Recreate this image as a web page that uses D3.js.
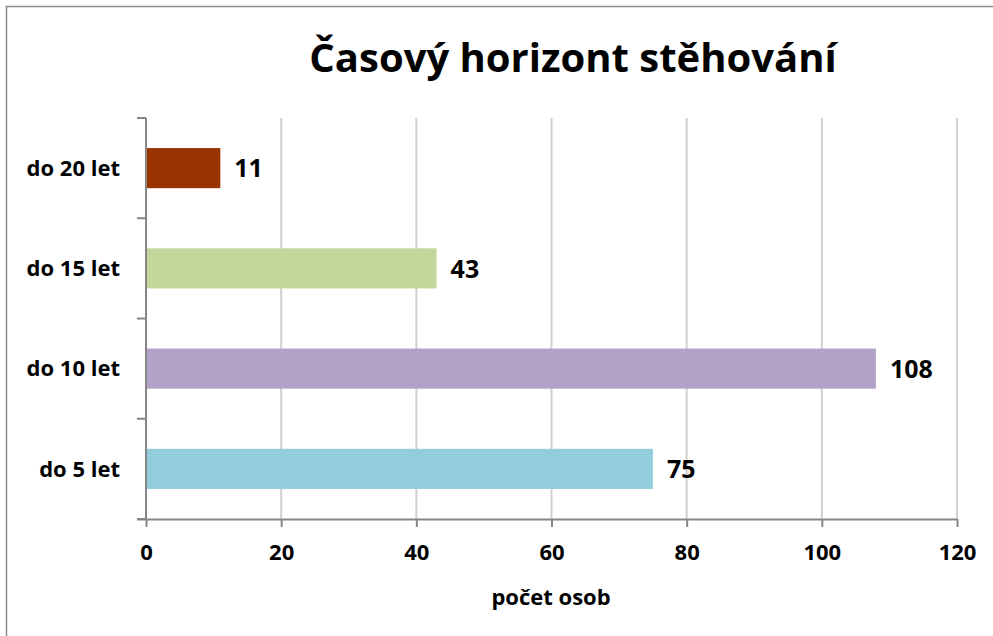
<!DOCTYPE html>
<html>
<head>
<meta charset="utf-8">
<script src="https://cdn.jsdelivr.net/npm/d3@7"></script>
<style>
  body { margin: 0; background: #fff; }
  svg { display: block; font-family: "Open Sans", "Noto Sans", sans-serif; }
</style>
</head>
<body>
<svg id="mainSvg" width="993" height="636"></svg>
<script>
let categories = ['do 20 let', 'do 15 let', 'do 10 let', 'do 5 let'];
let values = [11, 43, 108, 75];
let colors = ['#993300', '#c4d79b', '#b3a2c7', '#92cddc'];
let xTicks = [0, 20, 40, 60, 80, 100, 120];

let svg = d3.select('#mainSvg');

// chart border (only top and left visible in frame)
svg.append('rect')
  .attr('x', 6.5).attr('y', 6.5)
  .attr('width', 1000).attr('height', 1000)
  .attr('fill', 'none')
  .attr('stroke', '#8c8c8c')
  .attr('stroke-width', 1.5);

let margin = {left: 146, right: 36, top: 118, bottom: 117};
let x = d3.scaleLinear().domain([0, 120]).range([margin.left, 993 - margin.right]);
let y = d3.scaleBand().domain(categories).range([margin.top, 636 - margin.bottom]).paddingInner(0.6).paddingOuter(0.3);

// gridlines
svg.append('g').selectAll('line')
  .data(xTicks.slice(1))
  .join('line')
  .attr('x1', d => x(d)).attr('x2', d => x(d))
  .attr('y1', margin.top).attr('y2', 636 - margin.bottom)
  .attr('stroke', '#d0d0d0')
  .attr('stroke-width', 2);

// bars
svg.append('g').selectAll('rect')
  .data(values)
  .join('rect')
  .attr('x', x(0))
  .attr('y', (d, i) => y(categories[i]))
  .attr('width', d => x(d) - x(0))
  .attr('height', y.bandwidth())
  .attr('fill', (d, i) => colors[i]);

// x axis
let xAxis = svg.append('g')
  .attr('transform', `translate(0,${636 - margin.bottom})`)
  .call(d3.axisBottom(x).tickValues(xTicks).tickSize(8).tickPadding(17).tickSizeOuter(0));
xAxis.select('.domain').attr('d', `M${x(0) - 9},0.5H${x(120)}`).attr('stroke', '#868686').attr('stroke-width', 2);
xAxis.selectAll('.tick line').attr('stroke', '#868686').attr('stroke-width', 2);
xAxis.selectAll('.tick text')
  .attr('font-size', 22).attr('font-weight', 'bold').attr('fill', '#000')
  .attr('font-family', '"Open Sans", sans-serif');

// y axis with ticks between categories
let yAxisG = svg.append('g');
yAxisG.append('line')
  .attr('x1', x(0)).attr('x2', x(0))
  .attr('y1', margin.top).attr('y2', 636 - margin.bottom)
  .attr('stroke', '#868686').attr('stroke-width', 2);
let boundaries = d3.range(categories.length + 1).map(i => margin.top + i * (636 - margin.top - margin.bottom) / categories.length);
yAxisG.selectAll('.yt')
  .data(boundaries)
  .join('line')
  .attr('class', 'yt')
  .attr('x1', x(0) - 9).attr('x2', x(0))
  .attr('y1', d => d).attr('y2', d => d)
  .attr('stroke', '#868686').attr('stroke-width', 2);

// category labels
svg.append('g').selectAll('text')
  .data(categories)
  .join('text')
  .attr('x', 120)
  .attr('y', d => y(d) + y.bandwidth() / 2)
  .attr('dy', '0.35em')
  .attr('text-anchor', 'end')
  .attr('font-size', 22).attr('font-weight', 'bold')
  .text(d => d);

// value labels
svg.append('g').selectAll('text')
  .data(values)
  .join('text')
  .attr('x', d => x(d) + 14)
  .attr('y', (d, i) => y(categories[i]) + y.bandwidth() / 2)
  .attr('dy', '0.37em')
  .attr('font-size', 25).attr('font-weight', 'bold')
  .text(d => d);

// title
svg.append('text')
  .attr('x', 573).attr('y', 72)
  .attr('text-anchor', 'middle')
  .attr('font-size', 40).attr('font-weight', 'bold')
  .text('Časový horizont stěhování');

// axis title
svg.append('text')
  .attr('x', 551).attr('y', 605)
  .attr('text-anchor', 'middle')
  .attr('font-size', 22).attr('font-weight', 'bold')
  .text('počet osob');
</script>
</body>
</html>
